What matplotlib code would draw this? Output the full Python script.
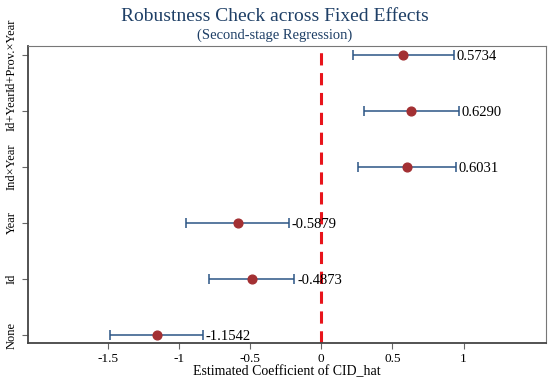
import numpy as np
import matplotlib
matplotlib.use('Agg')
import matplotlib.pyplot as plt

plt.rcParams['font.family'] = ['Liberation Serif', 'DejaVu Serif']

labels = ['None', 'Id', 'Year', 'Ind×Year', 'Id+Year', 'Id+Prov.×Year']
coef = [-1.1542, -0.4873, -0.5879, 0.6031, 0.6290, 0.5734]
ci_low = [-1.485, -0.79, -0.95, 0.26, 0.30, 0.22]
ci_high = [-0.83, -0.19, -0.23, 0.945, 0.965, 0.93]
xticks = [-1.5, -1, -0.5, 0, 0.5, 1]
xtick_labels = ['-1.5', '-1', '-0.5', '0', '0.5', '1']

coef = np.array(coef)
lo = np.array(ci_low)
hi = np.array(ci_high)
ypos = np.arange(len(labels))

fig = plt.figure(figsize=(5.5, 3.87), dpi=100)
ax = fig.add_axes([0.051, 0.114, 0.942, 0.767])

ax.errorbar(coef, ypos, xerr=[coef - lo, hi - coef], fmt='none',
            ecolor='#2b5585', elinewidth=1.1, capsize=3.5, capthick=1.1)
ax.plot(coef, ypos, 'o', color='#a33033', markersize=6.3, zorder=3)
ax.axvline(0, color='#e8141b', linestyle=(0, (4, 2.5)), linewidth=2.2)

for c, h, y in zip(coef, hi, ypos):
    ax.text(h + 0.02, y - 0.03, f'{c:.4f}', va='center', ha='left', fontsize=10.5)

ax.set_xlim(-2.06, 1.58)
ax.set_ylim(-0.14, 5.16)
ax.set_xticks(xticks)
ax.set_xticklabels(xtick_labels, fontsize=9.5)
ax.set_yticks(ypos)
ax.set_yticklabels(labels, rotation=90, va='center', fontsize=9)
ax.tick_params(axis='both', direction='out', length=4, color='#666666')
ax.set_xlabel('Estimated Coefficient of CID_hat', fontsize=10, labelpad=0)

for s in ['top', 'right']:
    ax.spines[s].set_color('#777777')
    ax.spines[s].set_linewidth(0.8)
for s in ['left', 'bottom']:
    ax.spines[s].set_color('#444444')
    ax.spines[s].set_linewidth(1.3)

fig.text(0.50, 0.958, 'Robustness Check across Fixed Effects', ha='center',
         va='center', fontsize=14, color='#1e3f66')
fig.text(0.50, 0.908, '(Second-stage Regression)', ha='center',
         va='center', fontsize=10.5, color='#1e3f66')

plt.savefig('out.png', dpi=100)
